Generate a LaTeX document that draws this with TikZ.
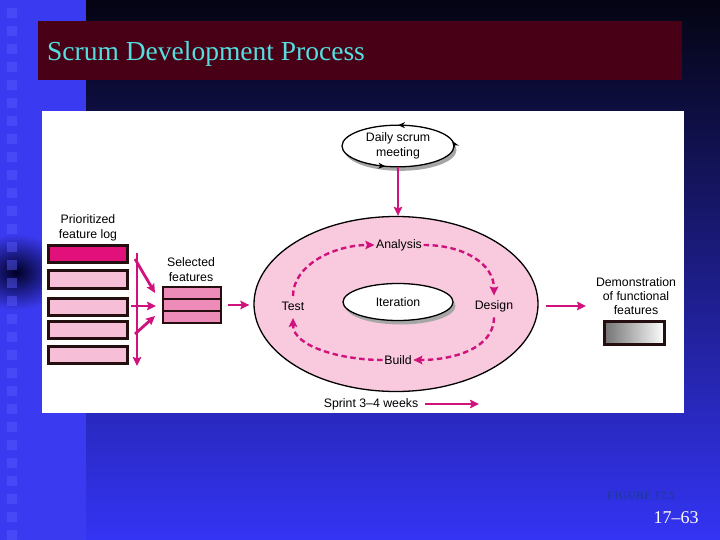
\documentclass[tikz,border=0pt]{standalone}
\usepackage{fontspec}
\setmainfont{Liberation Serif}
\newfontfamily\diagfont{Liberation Sans}
\usetikzlibrary{arrows.meta,shapes.geometric,shadows,decorations.markings}
\definecolor{bgtop}{RGB}{4,4,18}
\definecolor{bgmid}{RGB}{24,24,140}
\definecolor{bgbot}{RGB}{52,52,244}
\definecolor{stripblue}{RGB}{58,58,240}
\definecolor{stripsq}{RGB}{90,92,255}
\definecolor{titlebar}{RGB}{72,0,22}
\definecolor{titlecyan}{RGB}{84,222,222}
\definecolor{figblue}{RGB}{30,58,160}
\definecolor{scrummag}{RGB}{208,18,124}
\definecolor{logtop}{RGB}{226,16,122}
\definecolor{logpink}{RGB}{247,190,215}
\definecolor{selpink}{RGB}{238,140,185}
\definecolor{cyclepink}{RGB}{249,202,222}
\definecolor{boxedge}{RGB}{36,14,16}
\begin{document}
\begin{tikzpicture}[x=1pt, y=-1pt,
	lbl/.style={font=\diagfont\fontsize{12.3}{15}\selectfont, align=center, inner sep=1.5pt},
	flow/.style={draw=scrummag, line width=2.8pt, -{Stealth[length=9pt,width=8.5pt,inset=1.5pt]}},
	cyclearrow/.style={draw=scrummag, line width=2.4pt, dash pattern=on 5.5pt off 3.5pt, -{Stealth[length=9pt,width=8.5pt,inset=1.5pt]}},
	logbox/.style={draw=boxedge, line width=2.6pt, minimum width=79pt, minimum height=17.5pt, inner sep=0pt},
	selbox/.style={draw=boxedge, line width=1.8pt, fill=selpink, minimum width=58pt, minimum height=12pt, inner sep=0pt},
	shadowed/.style={drop shadow={shadow xshift=2.5pt, shadow yshift=-4pt, fill=black!35, opacity=1}}]
	\useasboundingbox (0,0) rectangle (720,540);
	
	%slide background
	\shade[top color=bgtop, middle color=bgmid, bottom color=bgbot] (86,0) rectangle (720,540);
	\fill[stripblue] (0,0) rectangle (86,540);
	\begin{scope}
		\clip (0,0) rectangle (86,540);
		\shade[inner color=black!85!blue, outer color=stripblue] (16,272) ellipse [x radius=48, y radius=38];
	\end{scope}
	\foreach \y in {8,26,...,530}{
		\fill[stripsq, opacity=0.45] (7,\y) rectangle (17,\y+10);
	}
	
	%title
	\fill[titlebar] (38,21) rectangle (682,80);
	\node[anchor=base west, text=titlecyan, inner sep=0pt, font=\fontsize{27.5}{30}\selectfont] (title) at (47,61) {Scrum Development Process};
	
	%white panel
	\fill[white] (42,111) rectangle (684,413);
	
	%daily scrum
	\node at (398,146) [ellipse, draw, line width=1.3pt, fill=white, shadowed, minimum width=112pt, minimum height=40pt, inner sep=0pt, lbl,
		postaction={decorate}, decoration={markings,
			mark=at position 0.02 with {\arrow{Stealth[length=7pt,width=6pt]}},
			mark=at position 0.25 with {\arrow{Stealth[length=7pt,width=6pt]}},
			mark=at position 0.70 with {\arrow{Stealth[length=7pt,width=6pt]}}}] (scrum) {Daily scrum\\meeting};
	
	%sprint cycle
	\node at (396,304) [ellipse, draw, line width=1.3pt, fill=cyclepink, minimum width=284pt, minimum height=175pt] (cycle) {};
	\node at (398,302) [ellipse, draw, line width=1.3pt, fill=white, shadowed, minimum width=110pt, minimum height=37pt, inner sep=0pt, lbl] (iter) {Iteration};
	\node at (399,245) [lbl] (analysis) {Analysis};
	\node at (494,306) [lbl] (design) {Design};
	\node at (398,360) [lbl] (build) {Build};
	\node at (293,306) [lbl] (test) {Test};
	\draw[cyclearrow, shorten <=4pt] (test.north) .. controls +(0,-35) and +(-40,0) .. (analysis.west);
	\draw[cyclearrow, shorten >=3pt] (analysis.east) .. controls +(40,0) and +(0,-35) .. (design.north);
	\draw[cyclearrow, shorten <=4pt] (design.south) .. controls +(0,35) and +(40,0) .. (build.east);
	\draw[cyclearrow, shorten >=6pt] (build.west) .. controls +(-40,0) and +(0,35) .. (test.south);
	\draw[flow] (scrum.south) -- (scrum.south |- cycle.north);
	
	%prioritized feature log
	\node at (88,228) [lbl] (prio) {Prioritized\\feature log};
	\node at (88,254) [logbox, fill=logtop] (log1) {};
	\foreach \y/\n in {279.5/2, 307/3, 330/4, 355/5}{
		\node at (88,\y) [logbox, fill=logpink] (log\n) {};
	}
	\coordinate (splittop) at (137,253);
	\coordinate (splitbot) at (137,366);
	\draw[flow] (splittop) -- (splitbot);
	
	%selected features
	\node at (191,270) [lbl] (selname) {Selected\\features};
	\foreach \y/\n in {293/1, 305/2, 317/3}{
		\node at (192,\y) [selbox] (sel\n) {};
	}
	\coordinate (brA) at (135,259);
	\coordinate (brB) at (131,306);
	\coordinate (brC) at (135,334);
	\coordinate (inA) at (155,293);
	\coordinate (inB) at (156,306);
	\coordinate (inC) at (155,316);
	\draw[flow] (brA) -- (inA);
	\draw[flow] (brB) -- (inB);
	\draw[flow] (brC) -- (inC);
	\coordinate (cyclein) at ([xshift=-4pt]cycle.west);
	\draw[flow] ([xshift=6pt]sel2.east) -- (cyclein |- sel2.east);
	
	%demonstration
	\node at (636,296) [lbl, font=\diagfont\fontsize{12.3}{14.3}\selectfont] (demo) {Demonstration\\of functional\\features};
	\node at (634.5,333) [draw=boxedge, line width=2.6pt, left color=black!55, right color=white, minimum width=60pt, minimum height=23pt, inner sep=0pt] (demobox) {};
	\coordinate (demoin) at (586,306);
	\coordinate (cycleout) at ([xshift=7pt]cycle.east);
	\draw[flow] (cycleout |- demoin) -- (demoin);
	
	%sprint length
	\node at (371,404) [lbl] (sprint) {Sprint 3–4 weeks};
	\coordinate (sprintend) at (479,404);
	\draw[flow] ([xshift=5pt]sprint.east) -- (sprintend);
	
	%slide footer
	\node at (641,496) [text=figblue, font=\bfseries\fontsize{11.5}{13}\selectfont] (figref) {FIGURE 17.5};
	\node at (676,518) [text=white, font=\fontsize{18}{20}\selectfont] (pageno) {17–63};
\end{tikzpicture}
\end{document}
